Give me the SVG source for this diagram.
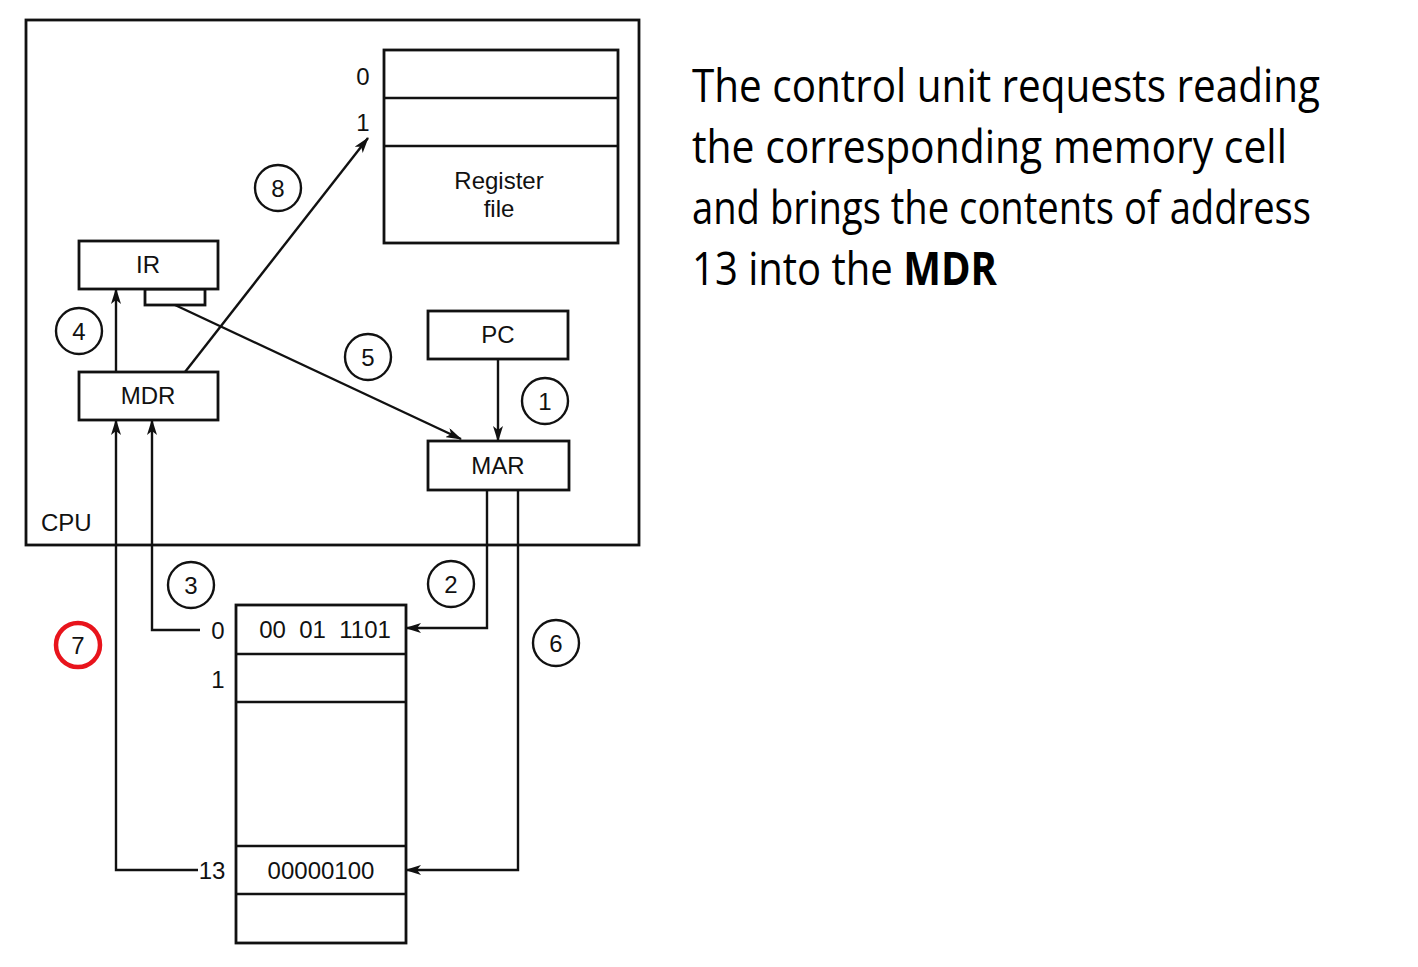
<svg xmlns="http://www.w3.org/2000/svg" width="1418" height="967" viewBox="0 0 1418 967">
<style>
.box{fill:#fff;stroke:#111;stroke-width:2.8}
.ln{fill:none;stroke:#111;stroke-width:2.4}
.t{font-family:"Liberation Sans",Arial,sans-serif;font-size:24px;fill:#111}
.c{fill:#fff;stroke:#111;stroke-width:2.4}
.side{font-family:"Open Sans","Noto Sans",sans-serif;font-size:46px;fill:#000}
</style>
<defs>
<marker id="ah" markerUnits="userSpaceOnUse" markerWidth="16" markerHeight="10" refX="15" refY="5" orient="auto">
<path d="M0,0 L16,5 L0,10 L4,5 Z" fill="#111"/>
</marker>
</defs>
<rect width="1418" height="967" fill="#fff"/>
<g id="cpu">
<rect x="26" y="20" width="613" height="525" fill="none" stroke="#111" stroke-width="2.8"/>
<text class="t" x="41" y="531">CPU</text>
</g>
<g id="register-file">
<rect class="box" x="384" y="50" width="234" height="193"/>
<line class="ln" x1="384" y1="98" x2="618" y2="98" stroke-width="2.8"/>
<line class="ln" x1="384" y1="146" x2="618" y2="146" stroke-width="2.8"/>
<text class="t" x="363" y="85" text-anchor="middle">0</text>
<text class="t" x="363" y="131" text-anchor="middle">1</text>
<text class="t" x="499" y="189" text-anchor="middle">Register</text>
<text class="t" x="499" y="217" text-anchor="middle">file</text>
</g>
<g id="ir">
<rect class="box" x="145" y="289" width="60" height="16"/>
<rect class="box" x="79" y="241" width="139" height="48"/>
<text class="t" x="148" y="273" text-anchor="middle">IR</text>
</g>
<g id="mdr">
<rect class="box" x="79" y="372" width="139" height="48"/>
<text class="t" x="148" y="404" text-anchor="middle">MDR</text>
</g>
<g id="pc">
<rect class="box" x="428" y="311" width="140" height="48"/>
<text class="t" x="498" y="343" text-anchor="middle">PC</text>
</g>
<g id="mar">
<rect class="box" x="428" y="441" width="141" height="49"/>
<text class="t" x="498" y="474" text-anchor="middle">MAR</text>
</g>
<g id="memory">
<rect class="box" x="236" y="605" width="170" height="338"/>
<line class="ln" x1="236" y1="654" x2="406" y2="654" stroke-width="2.8"/>
<line class="ln" x1="236" y1="702" x2="406" y2="702" stroke-width="2.8"/>
<line class="ln" x1="236" y1="846" x2="406" y2="846" stroke-width="2.8"/>
<line class="ln" x1="236" y1="894" x2="406" y2="894" stroke-width="2.8"/>
<text class="t" x="218" y="639" text-anchor="middle">0</text>
<text class="t" x="218" y="688" text-anchor="middle">1</text>
<text class="t" x="212" y="879" text-anchor="middle">13</text>
<text class="t" x="325" y="638" text-anchor="middle" xml:space="preserve">00  01  1101</text>
<text class="t" x="321" y="879" text-anchor="middle">00000100</text>
</g>
<g id="connectors">
<line class="ln" x1="498" y1="359" x2="498" y2="441" marker-end="url(#ah)"/>
<line class="ln" x1="116" y1="372" x2="116" y2="289" marker-end="url(#ah)"/>
<line class="ln" x1="185" y1="372" x2="368" y2="138" marker-end="url(#ah)"/>
<line class="ln" x1="175" y1="305" x2="461" y2="439" marker-end="url(#ah)"/>
<polyline class="ln" points="200,630 152,630 152,420" marker-end="url(#ah)"/>
<polyline class="ln" points="198,870 116,870 116,420" marker-end="url(#ah)"/>
<polyline class="ln" points="487,490 487,628 406,628" marker-end="url(#ah)"/>
<polyline class="ln" points="518,490 518,870 406,870" marker-end="url(#ah)"/>
</g>
<g id="step-labels">
<circle class="c" cx="545" cy="401" r="23"/><text class="t" x="545" y="410" text-anchor="middle">1</text>
<circle class="c" cx="451" cy="584" r="23"/><text class="t" x="451" y="593" text-anchor="middle">2</text>
<circle class="c" cx="191" cy="585" r="23"/><text class="t" x="191" y="594" text-anchor="middle">3</text>
<circle class="c" cx="79" cy="331" r="23"/><text class="t" x="79" y="340" text-anchor="middle">4</text>
<circle class="c" cx="368" cy="357" r="23"/><text class="t" x="368" y="366" text-anchor="middle">5</text>
<circle class="c" cx="556" cy="643" r="23"/><text class="t" x="556" y="652" text-anchor="middle">6</text>
<circle cx="78" cy="645" r="22" fill="#fff" stroke="#e8141c" stroke-width="4.5"/><text class="t" x="78" y="654" text-anchor="middle">7</text>
<circle class="c" cx="278" cy="188" r="23"/><text class="t" x="278" y="197" text-anchor="middle">8</text>
</g>
<g id="description">
<text class="side" x="692" y="102" textLength="628" lengthAdjust="spacingAndGlyphs">The control unit requests reading</text>
<text class="side" x="692" y="163" textLength="595" lengthAdjust="spacingAndGlyphs">the corresponding memory cell</text>
<text class="side" x="692" y="224" textLength="619" lengthAdjust="spacingAndGlyphs">and brings the contents of address</text>
<text class="side" x="692" y="285" textLength="305" lengthAdjust="spacingAndGlyphs">13 into the <tspan font-weight="bold">MDR</tspan></text>
</g>
</svg>
